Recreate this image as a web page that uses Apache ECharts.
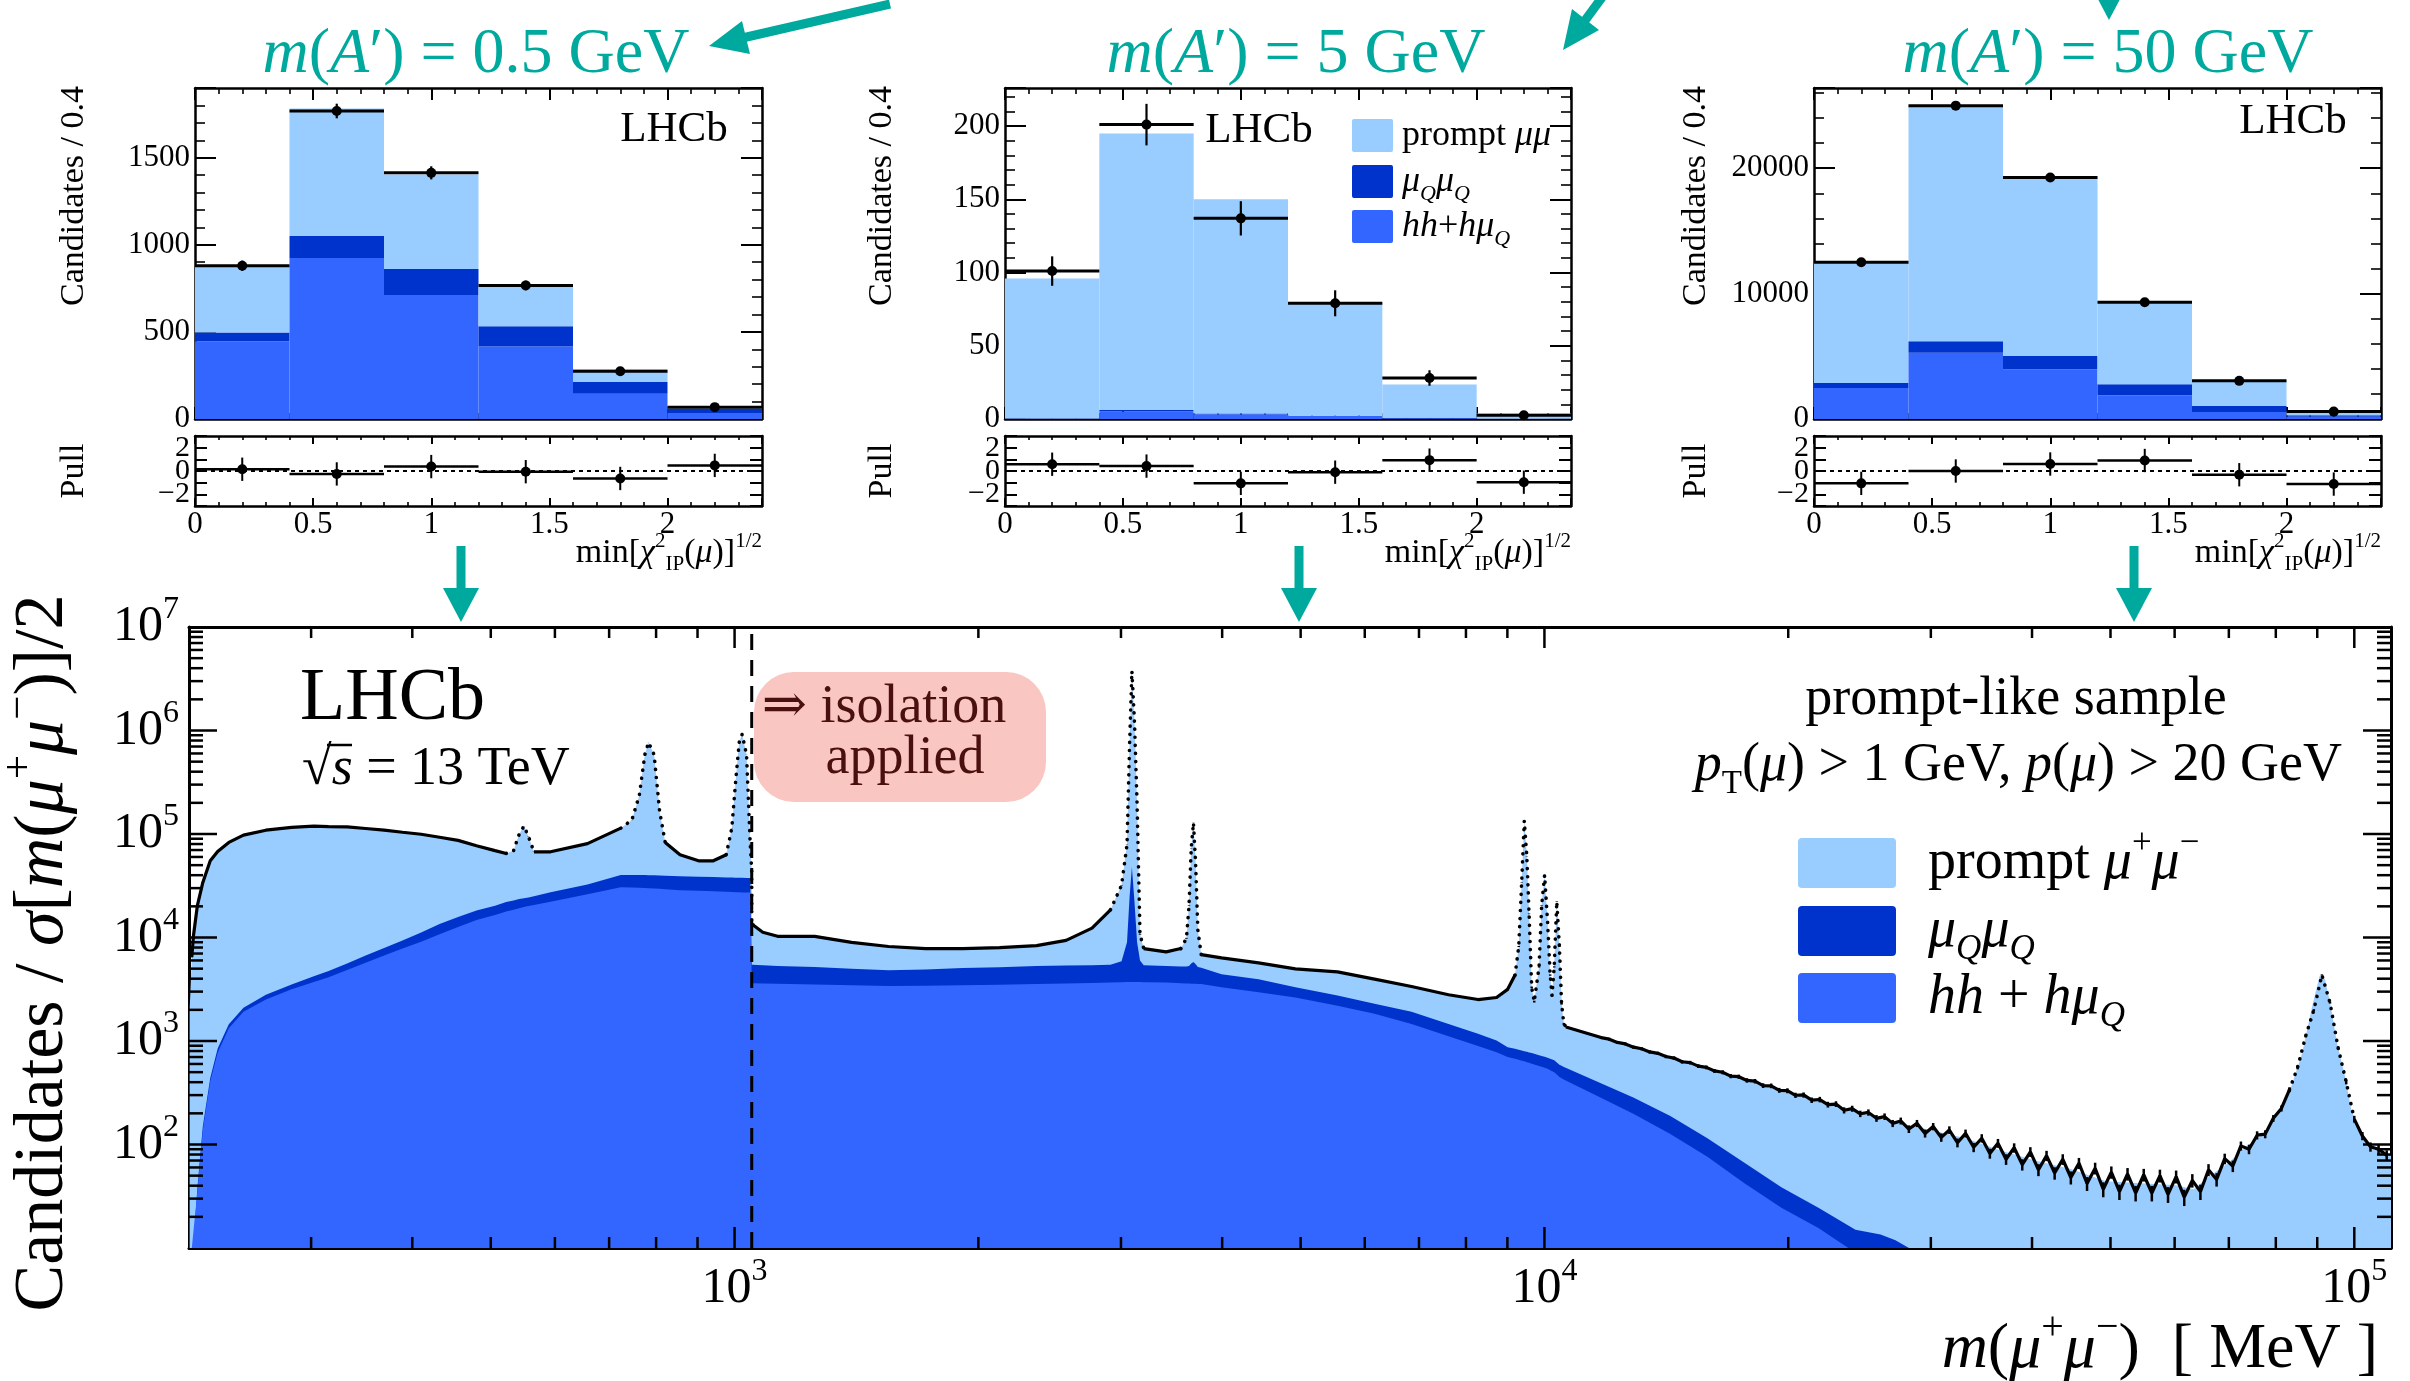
<!DOCTYPE html>
<html>
<head>
<meta charset="utf-8">
<title>Dimuon mass spectrum, prompt-like sample</title>
<script src="https://cdn.jsdelivr.net/npm/echarts@6.0.0/dist/echarts.min.js"></script>
<style>
  html, body { margin: 0; padding: 0; background: #ffffff; }
  #chart { width: 2410px; height: 1381px; }
</style>
</head>
<body>
<div id="chart"></div>
<script>
// ---------------- colours and fonts ----------------
const COL_PROMPT = '#99ccff';
const COL_MUQ = '#0033cc';
const COL_HH = '#3366ff';
const COL_TEAL = '#00a99d';
const SERIF = '"Liberation Serif", "DejaVu Serif", serif';

// ---------------- min[chi2_IP(mu)]^(1/2) templates, three A' masses ----------------
const binEdges = [0, 0.4, 0.8, 1.2, 1.6, 2.0, 2.4];
const binCentres = [0.2, 0.6, 1.0, 1.4, 1.8, 2.2];
const ipTickLabels = ['0', '0.5', '1', '1.5', '2'];
const pullTickValues = [-2, 0, 2];

// m(A') = 0.5 GeV
const ip05Prompt = [383, 733, 542, 234, 73, 10];
const ip05MuQ    = [51, 126, 149, 117, 67, 23];
const ip05HH     = [446, 924, 712, 416, 145, 35];
const ip05Data   = [880, 1768, 1413, 767, 274, 68];
const ip05Pull   = [0.15, -0.25, 0.38, -0.06, -0.64, 0.48];

// m(A') = 5 GeV
const ip5Prompt = [95.6, 188.8, 146.3, 77.2, 22.9, 3.55];
const ip5MuQ    = [0.1, 1.0, 0.5, 0.3, 0.1, 0.05];
const ip5HH     = [0.3, 5.2, 3.2, 2.0, 0.5, 0.2];
const ip5Data   = [101, 201, 137, 79, 28, 2.5];
const ip5Pull   = [0.58, 0.42, -1.06, -0.1, 0.93, -0.96];

// m(A') = 50 GeV
const ip50Prompt = [9634, 18846, 14278, 6563, 1997, 355];
const ip50MuQ    = [385, 916, 1063, 886, 502, 118];
const ip50HH     = [2481, 5288, 3959, 1891, 561, 177];
const ip50Data   = [12496, 24993, 19261, 9306, 3043, 591];
const ip50Pull   = [-1.06, 0, 0.6, 0.9, -0.32, -1.12];

// ---------------- m(mu+mu-) spectrum [MeV] ----------------
const MASS_MIN = 212, MASS_MAX = 111000;
const COUNT_MIN = 10, COUNT_MAX = 1e7;
const ISOLATION_CUT = 1050;   // isolation applied above this mass
// mass windows of the narrow resonances (eta, rho/omega, phi, J/psi, psi(2S), Upsilon(nS), Z)
const resonanceWindows = [[525, 562], [735, 815], [985, 1050], [2950, 3180], [3590, 3760], [9250, 10600], [84000, 99000]];

const fitMass = [
  212.4, 213.7, 214.8, 217.1, 220.5, 225.2, 230, 237.4, 247.5, 263.8,
  283.8, 302.3, 315.3, 332.3, 350.3, 369.2, 389, 410.2, 432.2, 455.6,
  480.1, 506.1, 522.4, 533.5, 542, 549.5, 556.4, 565.3, 592.6, 658.2,
  723.7, 746.8, 762.7, 774.8, 783, 795.5, 808.2, 821, 856.3, 902.6,
  941.4, 976.6, 992.2, 1002.6, 1013.2, 1021.7, 1034.6, 1045.6, 1049.9, 1050.1,
  1055.4, 1083.5, 1130, 1255.7, 1394.8, 1549.6, 1721.4, 1912.3, 2124, 2359.6,
  2566.5, 2762.8, 2911.9, 3005, 3052, 3074.8, 3094.7, 3117.6, 3140.6, 3166.8,
  3200.5, 3410.9, 3557.2, 3613.6, 3640.3, 3663, 3686.7, 3710, 3733, 3769,
  3993, 4436, 4926,
  5553, 6169, 6853, 7613, 8279, 8727, 9007, 9198, 9295, 9373,
  9443, 9512, 9573, 9644, 9714, 9848, 9921, 10005, 10090, 10165,
  10218, 10282, 10358, 10435, 10500, 10567, 10656, 11590, 12875, 14304,
  15893, 17657, 19614, 21792, 24212, 26001,
  27130, 28510, 29980, 33110, 36590, 40430, 44660, 49350, 54530, 60250,
  63310, 66560, 69960, 73550, 77300, 81240, 83720, 86250, 88860, 90650,
  92010, 93400, 95280, 97200, 99170, 101200, 103200, 106300, 110100, 111000
];
// fitted total (top of the light-blue area)
const fitTotal = [
  2000, 6500, 10700, 20300, 34000, 55100, 67900, 82900, 97600, 108800,
  116000, 119200, 118000, 117100, 113000, 108800, 104000, 99400, 93000, 86800,
  77100, 69100, 64900, 69100, 99400, 119200, 95000, 67300, 67300, 80700,
  113900, 136600, 235500, 583900, 766500, 583900, 163800, 82900, 63100, 55100,
  55100, 63100, 113900, 309300, 766500, 919000, 583900, 79200, 45000, 13490,
  13490, 11250, 10270, 10270, 8970, 8190, 7820, 7820, 7970, 8340,
  9380, 12320, 18530, 31950, 79200, 766500, 3755000, 1207000, 196500, 10750,
  7820, 7270, 7820, 9820, 20290, 72330, 128200, 50300, 11770, 6830,
  6350, 5690, 4970,
  4660, 3960, 3360, 2800, 2515, 2632, 3155, 4335, 8185, 33970,
  134100, 60330, 16930, 3300, 2403, 5197, 20290, 40100, 14110, 4335,
  2754, 5197, 22230, 8185, 2296, 1458, 1356, 1121, 885, 693,
  547, 432, 338, 267, 209, 177,
  165, 150, 138, 115, 87.4, 69.6, 58.1, 44.2, 42.3, 40.4,
  37, 50.7, 66.5, 95.7, 126, 227, 373, 772, 2296, 4300,
  3960, 2296, 926, 490, 217, 138, 105, 91.4, 79.8, 78.5
];
// muQ muQ + (hh + h muQ) : top of the dark-blue band
const fitNonPrompt = [
  10, 10, 11, 38, 150, 440, 846, 1450, 2100, 2800,
  3520, 4220, 4750, 5600, 6700, 7900, 9380, 11200, 13500, 15800,
  18200, 20300, 22000, 22800, 23500, 24000, 24400, 25000, 27400, 32500,
  40100, 40100, 40100, 40100, 40000, 39900, 39700, 39500, 39000, 38700,
  38400, 38000, 37900, 37800, 37750, 37700, 37650, 37630, 37600, 5440,
  5440, 5400, 5300, 5200, 5000, 4830, 4900, 5060, 5150, 5290,
  5350, 5400, 5440, 5900, 9000, 25000, 48100, 22000, 9000, 6000,
  5400, 5300, 5250, 5250, 5300, 5600, 5800, 5500, 5200, 5100,
  4420, 3960, 3300,
  2754, 2296, 1915, 1458, 1173, 1014, 870, 840, 824, 810,
  798, 786, 776, 764, 752, 730, 718, 705, 690, 675,
  665, 653, 620, 588, 575, 560, 545, 409, 284, 189,
  115, 66.5, 38.6, 24.5, 15, 13.5,
  11.9, 9.5, 5, 5, 5, 5, 5, 5, 5, 5,
  5, 5, 5, 5, 5, 5, 5, 5, 5, 5,
  5, 5, 5, 5, 5, 5, 5, 5, 5, 5
];
// hh + h muQ : top of the mid-blue area
const fitHadronic = [
  10, 10, 10, 35, 138, 409, 772, 1331, 1915, 2515,
  3155, 3715, 4140, 4850, 5690, 6700, 7820, 9100, 10750, 12600,
  14770, 16500, 17800, 18500, 19200, 19700, 20100, 20600, 22200, 26200,
  30500, 30400, 30200, 30000, 29900, 29700, 29500, 29300, 28650, 28300,
  27950, 27600, 27500, 27400, 27300, 27200, 27150, 27140, 27100, 3615,
  3615, 3600, 3570, 3520, 3450, 3390, 3420, 3450, 3500, 3560,
  3600, 3640, 3680, 3700, 3710, 3715, 3715, 3715, 3712, 3710,
  3705, 3680, 3620, 3600, 3590, 3580, 3575, 3570, 3560, 3550,
  3300, 2960, 2630,
  2194, 1830, 1458, 1110, 893, 779, 700, 672, 658, 646,
  636, 625, 616, 604, 593, 573, 563, 551, 538, 523,
  513, 500, 475, 448, 436, 425, 410, 298, 198, 126,
  76, 42.3, 24.5, 15.6, 9, 5,
  5, 5, 5, 5, 5, 5, 5, 5, 5, 5,
  5, 5, 5, 5, 5, 5, 5, 5, 5, 5,
  5, 5, 5, 5, 5, 5, 5, 5, 5, 5
];

// Data above 11 GeV, where the statistical scatter is visible
const dataMassHigh = [
  11749, 12023, 12303, 12589, 12882, 13183, 13490, 13804, 14125, 14454,
  14791, 15136, 15488, 15849, 16218, 16596, 16982, 17378, 17783, 18197,
  18621, 19055, 19498, 19953, 20417, 20893, 21380, 21878, 22387, 22909,
  23442, 23988, 24547, 25119, 25704, 26303, 26915, 27542, 28184, 28840,
  29512, 30200, 30903, 31623, 32359, 33113, 33884, 34674, 35481, 36308,
  37154, 38019, 38905, 39811, 40738, 41687, 42658, 43652, 44668, 45709,
  46774, 47863, 48978, 50119, 51286, 52481, 53703, 54954, 56234, 57544,
  58884, 60256, 61660, 63096, 64565, 66069, 67608, 69183, 70795, 72444,
  74131, 75858, 77625, 79433, 81283, 83176, 85114, 87096, 89125, 91201,
  93325, 95499, 97724, 100000, 102330, 104710, 107150, 109650
];
const dataCountHigh = [
  1079, 1041, 969, 937, 872, 841, 784, 760, 708, 684,
  630, 618, 572, 556, 514, 499, 458, 452, 416, 409,
  371, 369, 334, 331, 299, 301, 268, 272, 243, 246,
  214, 222, 198, 204, 179, 186, 160, 169, 141, 160,
  128, 149, 117, 138, 104, 128, 94, 115, 82, 103,
  72, 93, 64, 85, 57, 78, 53, 72, 48, 66,
  42, 59, 37, 54, 35, 52, 34, 51, 34, 50,
  33, 49, 31, 45, 35, 57, 46, 73, 62, 97,
  90, 123, 126, 179, 223, 339, 556, 1116, 1985, 4340,
  2348, 862, 401, 176, 121, 95, 90, 79
];
// Below 11 GeV the fitted total lies on the data points, so they share the low-mass values
const N_LOW_DATA = 110;
const dataMass = fitMass.slice(1, N_LOW_DATA).concat(dataMassHigh);
const dataCount = fitTotal.slice(1, N_LOW_DATA).concat(dataCountHigh);

// axis ticks of the spectrum
const massMajorTicks = [1000, 10000, 100000];
const countMajorTicks = [100, 1000, 10000, 100000, 1000000];
const massDecades = [100, 1000, 10000];
const countDecades = [10, 100, 1000, 10000, 100000, 1000000];
const minorSteps = [2, 3, 4, 5, 6, 7, 8, 9];

// ---------------- helpers ----------------
function richSet(size, color) {
  const c = color || '#000';
  const s = Math.round(size * 0.62);
  const lh = Math.round(size * 1.3);
  return {
    n:    { fontSize: size, fontFamily: SERIF, lineHeight: lh, color: c, fill: c },
    i:    { fontSize: size, fontFamily: SERIF, fontStyle: 'italic', lineHeight: lh, color: c, fill: c },
    sup:  { fontSize: s, fontFamily: SERIF, lineHeight: s, verticalAlign: 'top', color: c, fill: c },
    sub:  { fontSize: s, fontFamily: SERIF, lineHeight: s, verticalAlign: 'bottom', color: c, fill: c },
    isub: { fontSize: s, fontFamily: SERIF, fontStyle: 'italic', lineHeight: s, verticalAlign: 'bottom', color: c, fill: c }
  };
}
function gText(x, y, text, size, opt) {
  opt = opt || {};
  const c = opt.color || '#000';
  return {
    type: 'text', x: x, y: y, rotation: opt.rotation || 0, z: 100, silent: true,
    style: {
      text: text, rich: richSet(size, c), fontSize: size, fontFamily: SERIF,
      fontStyle: opt.italic ? 'italic' : 'normal', fill: c,
      align: opt.align || 'left', verticalAlign: opt.vAlign || 'middle'
    }
  };
}
function seg(x1, y1, x2, y2, w, color) {
  return { type: 'line', silent: true, shape: { x1: x1, y1: y1, x2: x2, y2: y2 }, style: { stroke: color || '#000', lineWidth: w } };
}
const inResonance = m => resonanceWindows.some(w => m > w[0] && m < w[1]);

// ---------------- layout ----------------
const MAIN = { left: 189, top: 627, width: 2202, height: 621 };
const panels = [
  { left: 195, width: 567, ymax: 1900, step: 500, prompt: ip05Prompt, muq: ip05MuQ, hh: ip05HH, data: ip05Data, pull: ip05Pull,
    title: '{i|m}{n|(}{i|A}{n|′) = 0.5 GeV}', titleX: 476, yTitleX: 74, lhcbX: 674, lhcbY: 130 },
  { left: 1005, width: 566, ymax: 226, step: 50, prompt: ip5Prompt, muq: ip5MuQ, hh: ip5HH, data: ip5Data, pull: ip5Pull,
    title: '{i|m}{n|(}{i|A}{n|′) = 5 GeV}', titleX: 1296, yTitleX: 882, lhcbX: 1259, lhcbY: 131 },
  { left: 1814, width: 567, ymax: 26400, step: 10000, prompt: ip50Prompt, muq: ip50MuQ, hh: ip50HH, data: ip50Data, pull: ip50Pull,
    title: '{i|m}{n|(}{i|A}{n|′) = 50 GeV}', titleX: 2108, yTitleX: 1696, lhcbX: 2293, lhcbY: 122 }
];
const PANEL_TOP = 88, PANEL_H = 331, PULL_TOP = 436, PULL_H = 70;

const grids = [MAIN];
const xAxes = [];
const yAxes = [];
const series = [];

// ---- spectrum axes ----
function powerLabel(minExp) {
  return function (v) {
    const l = Math.log10(v), e = Math.round(l);
    if (Math.abs(l - e) > 1e-6 || e < minExp) return '';
    return '{b|10}{s|' + e + '}';
  };
}
const powRich = {
  b: { fontSize: 50, fontFamily: SERIF, color: '#000', lineHeight: 66 },
  s: { fontSize: 32, fontFamily: SERIF, color: '#000', lineHeight: 32, verticalAlign: 'top' }
};
const frame = { onZero: false, lineStyle: { color: '#000', width: 3 } };
xAxes.push({ type: 'log', logBase: 10, gridIndex: 0, min: MASS_MIN, max: MASS_MAX, position: 'bottom',
  axisLine: frame, axisTick: { show: false }, minorTick: { show: false }, splitLine: { show: false },
  axisLabel: { formatter: powerLabel(3), rich: powRich, margin: 8, showMinLabel: false, showMaxLabel: false } });
xAxes.push({ type: 'log', logBase: 10, gridIndex: 0, min: MASS_MIN, max: MASS_MAX, position: 'top',
  axisLine: frame, axisTick: { show: false }, splitLine: { show: false }, axisLabel: { show: false } });
yAxes.push({ type: 'log', logBase: 10, gridIndex: 0, min: COUNT_MIN, max: COUNT_MAX, position: 'left',
  axisLine: frame, axisTick: { show: false }, minorTick: { show: false }, splitLine: { show: false },
  axisLabel: { formatter: powerLabel(2), rich: powRich, margin: 10 } });
yAxes.push({ type: 'log', logBase: 10, gridIndex: 0, min: COUNT_MIN, max: COUNT_MAX, position: 'right',
  axisLine: frame, axisTick: { show: false }, splitLine: { show: false }, axisLabel: { show: false } });

// ---- spectrum series ----
const pairs = (xs, ys) => xs.map((x, i) => [x, ys[i]]);
function areaSeries(name, ys, color, z) {
  return { name: name, type: 'line', xAxisIndex: 0, yAxisIndex: 0, data: pairs(fitMass, ys),
    symbol: 'none', showSymbol: false, lineStyle: { width: 0 }, itemStyle: { color: color },
    areaStyle: { color: color, opacity: 1, origin: 'start' }, z: z, silent: true, clip: true };
}
series.push(areaSeries('prompt', fitTotal, COL_PROMPT, 2));
series.push(areaSeries('muQmuQ', fitNonPrompt, COL_MUQ, 3));
series.push(areaSeries('hh', fitHadronic, COL_HH, 4));

// data: continuum drawn as a solid trace, narrow resonances as a dotted trace
const continuumPts = dataMass.map((m, i) => [m, inResonance(m) ? null : dataCount[i]]);
const resonancePts = dataMass.map((m, i) => {
  const near = inResonance(m) || (i > 0 && inResonance(dataMass[i - 1])) || (i < dataMass.length - 1 && inResonance(dataMass[i + 1]));
  return [m, near ? dataCount[i] : null];
});
series.push({ name: 'data', type: 'line', xAxisIndex: 0, yAxisIndex: 0, data: continuumPts, connectNulls: false,
  symbol: 'none', showSymbol: false, lineStyle: { color: '#000', width: 3.2 }, z: 6, silent: true, clip: true });
series.push({ name: 'data peaks', type: 'line', xAxisIndex: 0, yAxisIndex: 0, data: resonancePts, connectNulls: false,
  symbol: 'none', showSymbol: false, lineStyle: { color: '#000', width: 3.6, type: [0.1, 8], cap: 'round' }, z: 6, silent: true, clip: true });
series.push({ type: 'custom', xAxisIndex: 0, yAxisIndex: 0, z: 7, silent: true, clip: true,
  data: pairs(dataMass, dataCount),
  renderItem: function (params, api) {
    const m = api.value(0), v = api.value(1), e = Math.sqrt(v);
    const a = api.coord([m, v + e]), b = api.coord([m, Math.max(v - e, 1)]);
    return { type: 'line', shape: { x1: a[0], y1: a[1], x2: b[0], y2: b[1] }, style: { stroke: '#000', lineWidth: 2.5 } };
  } });
series.push({ type: 'line', xAxisIndex: 0, yAxisIndex: 0, z: 8, silent: true, symbol: 'none',
  data: [[ISOLATION_CUT, COUNT_MIN], [ISOLATION_CUT, 8.6e6]],
  lineStyle: { color: '#000', width: 3, type: [16, 10] } });

// ticks of the spectrum frame (all four sides)
const tickItems = [];
massMajorTicks.forEach(v => tickItems.push([v, 100, 0, 21]));
massDecades.forEach(d => minorSteps.forEach(k => { const v = k * d; if (v > MASS_MIN && v < MASS_MAX) tickItems.push([v, 100, 0, 11]); }));
countMajorTicks.forEach(v => tickItems.push([1000, v, 1, 28]));
countDecades.forEach(d => minorSteps.forEach(k => tickItems.push([1000, k * d, 1, 14])));
series.push({ type: 'custom', xAxisIndex: 0, yAxisIndex: 0, z: 9, silent: true, clip: false, data: tickItems,
  renderItem: function (params, api) {
    const kind = api.value(2), len = api.value(3);
    if (kind === 0) {
      const v = api.value(0);
      const b = api.coord([v, COUNT_MIN]), t = api.coord([v, COUNT_MAX]);
      return { type: 'group', children: [seg(b[0], b[1], b[0], b[1] - len, 2.5), seg(t[0], t[1], t[0], t[1] + len, 2.5)] };
    }
    const v = api.value(1);
    const l = api.coord([MASS_MIN, v]), r = api.coord([MASS_MAX, v]);
    return { type: 'group', children: [seg(l[0], l[1], l[0] + len, l[1], 2.5), seg(r[0], r[1], r[0] - len, r[1], 2.5)] };
  } });

// ---- the three IP panels ----
const pFrame = { onZero: false, lineStyle: { color: '#000', width: 2.5 } };
const pTick = (len) => ({ inside: true, length: len, lineStyle: { color: '#000', width: 2 } });
const pMinor = (len) => ({ show: true, splitNumber: 5, length: len, lineStyle: { color: '#000', width: 1.6 } });
const pLabel = { fontSize: 31, fontFamily: SERIF, color: '#000' };

panels.forEach((p, k) => {
  const gMain = 1 + 2 * k, gPull = 2 + 2 * k;
  grids.push({ left: p.left, top: PANEL_TOP, width: p.width, height: PANEL_H });
  grids.push({ left: p.left, top: PULL_TOP, width: p.width, height: PULL_H });
  const xi = xAxes.length, yi = yAxes.length;
  // histogram frame
  xAxes.push({ type: 'value', gridIndex: gMain, min: 0, max: 2.4, interval: 0.5, position: 'bottom',
    axisLine: pFrame, axisTick: pTick(12), minorTick: pMinor(6), splitLine: { show: false }, axisLabel: { show: false } });
  xAxes.push({ type: 'value', gridIndex: gMain, min: 0, max: 2.4, interval: 0.5, position: 'top',
    axisLine: pFrame, axisTick: pTick(12), minorTick: pMinor(6), splitLine: { show: false }, axisLabel: { show: false } });
  yAxes.push({ type: 'value', gridIndex: gMain, min: 0, max: p.ymax, interval: p.step, position: 'left',
    axisLine: pFrame, axisTick: pTick(21), minorTick: pMinor(10), splitLine: { show: false },
    axisLabel: Object.assign({ margin: 5, showMaxLabel: false, formatter: v => String(v) }, pLabel) });
  yAxes.push({ type: 'value', gridIndex: gMain, min: 0, max: p.ymax, interval: p.step, position: 'right',
    axisLine: pFrame, axisTick: pTick(21), minorTick: pMinor(10), splitLine: { show: false }, axisLabel: { show: false } });
  // pull frame
  xAxes.push({ type: 'value', gridIndex: gPull, min: 0, max: 2.4, interval: 0.5, position: 'bottom',
    axisLine: pFrame, axisTick: pTick(8), minorTick: pMinor(4), splitLine: { show: false },
    axisLabel: Object.assign({ margin: 3, showMaxLabel: false,
      formatter: v => { const i = Math.round(v / 0.5); return Math.abs(v - i * 0.5) < 1e-9 && i < ipTickLabels.length ? ipTickLabels[i] : ''; } }, pLabel) });
  xAxes.push({ type: 'value', gridIndex: gPull, min: 0, max: 2.4, interval: 0.5, position: 'top',
    axisLine: pFrame, axisTick: pTick(8), minorTick: pMinor(4), splitLine: { show: false }, axisLabel: { show: false } });
  const pullY = (pos) => ({ type: 'value', gridIndex: gPull, min: -3, max: 3, interval: 1, position: pos,
    axisLine: pFrame, axisTick: { inside: true, length: 12, lineStyle: { color: '#000', width: 2 } },
    splitLine: { show: false }, axisLabel: { show: false } });
  yAxes.push(pullY('left'));
  yAxes.push(pullY('right'));

  // stacked templates
  series.push({ type: 'custom', xAxisIndex: xi, yAxisIndex: yi, z: 2, silent: true,
    data: binCentres.map((c, i) => [binEdges[i], binEdges[i + 1], p.hh[i], p.muq[i], p.prompt[i]]),
    encode: { x: [0, 1], y: [2] },
    renderItem: function (params, api) {
      const lo = api.value(0), hi = api.value(1), h = api.value(2), q = api.value(3), pr = api.value(4);
      const box = (y0, y1, color) => {
        const a = api.coord([lo, y1]), b = api.coord([hi, y0]);
        return { type: 'rect', shape: { x: a[0], y: a[1], width: b[0] - a[0], height: b[1] - a[1] }, style: { fill: color } };
      };
      return { type: 'group', children: [box(0, h, COL_HH), box(h, h + q, COL_MUQ), box(h + q, h + q + pr, COL_PROMPT)] };
    } });
  // data points
  series.push({ type: 'custom', xAxisIndex: xi, yAxisIndex: yi, z: 5, silent: true,
    data: binCentres.map((c, i) => [c, p.data[i], binEdges[i], binEdges[i + 1]]),
    renderItem: function (params, api) {
      const c = api.value(0), v = api.value(1), lo = api.value(2), hi = api.value(3), e = Math.sqrt(v);
      const pc = api.coord([c, v]), pl = api.coord([lo, v]), ph = api.coord([hi, v]);
      const up = api.coord([c, v + e]), dn = api.coord([c, Math.max(v - e, 0)]);
      return { type: 'group', children: [
        seg(pl[0], pl[1], ph[0], ph[1], 3), seg(up[0], up[1], dn[0], dn[1], 2.2),
        { type: 'circle', shape: { cx: pc[0], cy: pc[1], r: 5 }, style: { fill: '#000' } }] };
    } });
  // pulls
  series.push({ type: 'line', xAxisIndex: xi + 2, yAxisIndex: yi + 2, z: 3, silent: true, symbol: 'none',
    data: [[0, 0], [2.4, 0]], lineStyle: { color: '#000', width: 2, type: [4, 4] } });
  series.push({ type: 'custom', xAxisIndex: xi + 2, yAxisIndex: yi + 2, z: 5, silent: true,
    data: binCentres.map((c, i) => [c, p.pull[i], binEdges[i], binEdges[i + 1]]),
    renderItem: function (params, api) {
      const c = api.value(0), v = api.value(1), lo = api.value(2), hi = api.value(3);
      const pc = api.coord([c, v]), pl = api.coord([lo, v]), ph = api.coord([hi, v]);
      const up = api.coord([c, v + 1]), dn = api.coord([c, v - 1]);
      return { type: 'group', children: [
        seg(pl[0], pl[1], ph[0], ph[1], 2.5), seg(up[0], up[1], dn[0], dn[1], 2),
        { type: 'circle', shape: { cx: pc[0], cy: pc[1], r: 5 }, style: { fill: '#000' } }] };
    } });
  // pull tick labels (-2, 0, 2), packed tightly as on the frame
  series.push({ type: 'custom', xAxisIndex: xi + 2, yAxisIndex: yi + 2, z: 5, silent: true, clip: false,
    data: pullTickValues.map(v => [0, v]),
    renderItem: function (params, api) {
      const v = api.value(1), pt = api.coord([0, v]);
      return { type: 'text', x: pt[0] - 5, y: pt[1],
        style: { text: v < 0 ? '\u2212' + (-v) : String(v), fontSize: 30, fontFamily: SERIF, fill: '#000', align: 'right', verticalAlign: 'middle' } };
    } });
});

// ---------------- annotations ----------------
const graphic = [];
// spectrum
graphic.push(gText(44, 953, '{n|Candidates / }{i|σ}{n|[}{i|m}{n|(}{i|μ}{sup|+}{i|μ}{sup|−}{n|)]/2}', 70, { rotation: Math.PI / 2, align: 'center' }));
graphic.push(gText(2378, 1350, '{i|m}{n|(}{i|μ}{sup|+}{i|μ}{sup|−}{n|)  [ MeV ]}', 64, { align: 'right' }));
graphic.push(gText(300, 700, 'LHCb', 74));
graphic.push(gText(302, 770, '{n|√}{i|s}{n| = 13 TeV}', 54));
graphic.push(seg(327, 745, 352, 745, 2.5));
graphic.push({ type: 'rect', shape: { x: 754, y: 672, width: 292, height: 130, r: 40 }, style: { fill: '#f9c6c2' }, z: 90, silent: true });
graphic.push(gText(884, 708, '⇒ isolation', 54, { align: 'center', color: '#4a0f0f' }));
graphic.push(gText(905, 759, 'applied', 54, { align: 'center', color: '#4a0f0f' }));
graphic.push(gText(2016, 700, 'prompt-like sample', 54, { align: 'center' }));
graphic.push(gText(2342, 766, '{i|p}{sub|T}{n|(}{i|μ}{n|) > 1 GeV, }{i|p}{n|(}{i|μ}{n|) > 20 GeV}', 54, { align: 'right' }));
[[COL_PROMPT, '{n|prompt }{i|μ}{sup|+}{i|μ}{sup|−}', 838],
 [COL_MUQ, '{i|μ}{isub|Q}{i|μ}{isub|Q}', 906],
 [COL_HH, '{i|hh}{n| + }{i|hμ}{isub|Q}', 973]].forEach(r => {
  graphic.push({ type: 'rect', shape: { x: 1798, y: r[2], width: 98, height: 50, r: 4 }, style: { fill: r[0] }, z: 90, silent: true });
  graphic.push(gText(1928, r[2] + 25, r[1], 56));
});
// IP panels
panels.forEach(p => {
  graphic.push(gText(p.titleX, 55, p.title, 64, { align: 'center', color: COL_TEAL }));
  graphic.push(gText(p.yTitleX, 196, 'Candidates / 0.4', 34, { rotation: Math.PI / 2, align: 'center' }));
  graphic.push(gText(p.yTitleX, 471, 'Pull', 34, { rotation: Math.PI / 2, align: 'center' }));
  graphic.push(gText(p.left + p.width, 553, '{n|min[}{i|χ}{sup|2}{sub|IP}{n|(}{i|μ}{n|)]}{sup|1/2}', 34, { align: 'right' }));
  graphic.push(gText(p.lhcbX, p.lhcbY, 'LHCb', 43, { align: 'center' }));
});
[[COL_PROMPT, '{n|prompt }{i|μμ}', 119], [COL_MUQ, '{i|μ}{isub|Q}{i|μ}{isub|Q}', 165], [COL_HH, '{i|hh}{n|+}{i|hμ}{isub|Q}', 210]].forEach(r => {
  graphic.push({ type: 'rect', shape: { x: 1352, y: r[2], width: 41, height: 33, r: 2 }, style: { fill: r[0] }, z: 90, silent: true });
  graphic.push(gText(1402, r[2] + 17, r[1], 36));
});
// arrows linking each A' mass to the spectrum
[461, 1299, 2134].forEach(x => {
  graphic.push(seg(x, 546, x, 596, 9, COL_TEAL));
  graphic.push({ type: 'polygon', shape: { points: [[x - 18, 588], [x + 18, 588], [x, 622]] }, style: { fill: COL_TEAL }, silent: true });
});
graphic.push(seg(890, 4, 738, 39, 9, COL_TEAL));
graphic.push({ type: 'polygon', shape: { points: [[709, 46], [750, 54], [742, 21]] }, style: { fill: COL_TEAL }, silent: true });
graphic.push(seg(1578, 30, 1606, -8, 9, COL_TEAL));
graphic.push({ type: 'polygon', shape: { points: [[1563, 50], [1599, 30], [1572, 9]] }, style: { fill: COL_TEAL }, silent: true });
graphic.push({ type: 'polygon', shape: { points: [[2091, -14], [2127, -14], [2109, 20]] }, style: { fill: COL_TEAL }, silent: true });

const chart = echarts.init(document.getElementById('chart'), null, { renderer: 'canvas' });
chart.setOption({
  animation: false,
  backgroundColor: '#ffffff',
  textStyle: { fontFamily: SERIF },
  grid: grids,
  xAxis: xAxes,
  yAxis: yAxes,
  series: series,
  graphic: graphic
});
</script>
</body>
</html>
